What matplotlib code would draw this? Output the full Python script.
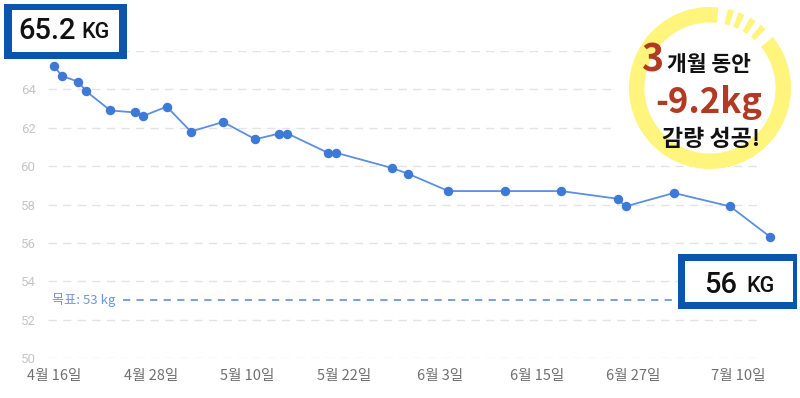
import matplotlib
matplotlib.use("Agg")
import matplotlib.pyplot as plt
from matplotlib.patches import Rectangle, Wedge
import pandas as pd

# -----------------------------
# Data
# -----------------------------
year = "2023"
dates = ["04-16", "04-17", "04-19", "04-20", "04-23", "04-26", "04-27", "04-30",
         "05-03", "05-07", "05-11", "05-14", "05-15", "05-20", "05-21", "05-28",
         "05-30", "06-04", "06-11", "06-18", "06-25", "06-26", "07-02", "07-09",
         "07-14"]
weights = [65.2, 64.7, 64.4, 63.9, 62.9, 62.8, 62.6, 63.1,
           61.8, 62.3, 61.4, 61.7, 61.7, 60.7, 60.7, 59.9,
           59.6, 58.7, 58.7, 58.7, 58.3, 57.9, 58.6, 57.9,
           56.3]
tick_dates = ["04-16", "04-28", "05-10", "05-22", "06-03", "06-15", "06-27", "07-10"]
tick_labels = ["4월 16일", "4월 28일", "5월 10일", "5월 22일", "6월 3일", "6월 15일", "6월 27일", "7월 10일"]
y_ticks = [50, 52, 54, 56, 58, 60, 62, 64, 66]
goal = 53
goal_label = "목표: 53 kg"
start_label = ("65.2", "KG")
end_label = ("56", "KG")

x = pd.to_datetime([f"{year}-{d}" for d in dates])
xt = pd.to_datetime([f"{year}-{d}" for d in tick_dates])

KR = ["Noto Sans CJK KR", "DejaVu Sans"]
LINE = "#5b8fe0"
DOT = "#3d7ad8"
BOX = "#0b55ae"
RED = "#b23a22"
YEL = "#fff47c"

fig = plt.figure(figsize=(8, 3.98), dpi=100)

# -----------------------------
# Main chart
# -----------------------------
ax = fig.add_axes([48 / 800, 40 / 398, 712 / 800, 307 / 398])
ax.plot(x, weights, color=LINE, lw=1.3, marker="o", ms=5.8,
        mfc=DOT, mec=DOT, clip_on=False, zorder=3)
ax.axhline(goal, xmin=75 / 712, color="#6d97dc", lw=1.3,
           linestyle=(0, (4, 3.5)), zorder=2)
ax.text(x[0] - pd.Timedelta(days=0.3), goal, goal_label,
        family=KR, fontsize=9.5, color="#6d97dc", va="center", ha="left")

ax.set_ylim(50, 66)
ax.set_xlim(x[0] - pd.Timedelta(days=0.75), x[0] + pd.Timedelta(days=87.7))
ax.set_yticks(y_ticks)
ax.set_yticklabels([str(v) for v in y_ticks], family=["Roboto"], fontsize=9.5, color="#c6c6c6")
ax.set_xticks(xt)
ax.set_xticklabels(tick_labels, family=KR, fontsize=10.5, color="#707070")
ax.tick_params(axis="x", length=0, pad=8)
ax.tick_params(axis="y", length=0, pad=9)
ax.yaxis.grid(True, linestyle=(0, (6, 4.5)), color="#e3e3e3", lw=1)
ax.xaxis.grid(False)
for s in ax.spines.values():
    s.set_visible(False)

# -----------------------------
# Overlay (pixel coords)
# -----------------------------
ov = fig.add_axes([0, 0, 1, 1], zorder=5)
ov.set_xlim(0, 800)
ov.set_ylim(0, 398)
ov.axis("off")

def Y(py):
    return 398 - py

# badge background + ring
ov.add_patch(Rectangle((615, Y(150)), 185, 150, color="white", lw=0))
cx, cy, r, w = 710, Y(88), 81, 15.5
ov.add_patch(Wedge((cx, cy), r, 84, 399, width=w, color=YEL, lw=0))
for a in [49, 58, 67, 75]:
    ov.add_patch(Wedge((cx, cy), r, a - 2.3, a + 2.3, width=w, color=YEL, lw=0))

ov.text(641, Y(72), "3", family=KR, fontsize=27, weight="heavy", color=RED,
        ha="left", va="baseline")
ov.text(667, Y(71), "개월 동안", family=KR, fontsize=15.5, weight="heavy",
        color="#111111", ha="left", va="baseline")
ov.text(709, Y(113), "-9.2kg", family=KR, fontsize=25, weight="heavy", color=RED,
        ha="center", va="baseline")
ov.text(711, Y(146), "감량 성공!", family=KR, fontsize=16.5, weight="heavy",
        color="#111111", ha="center", va="baseline")

# value boxes
def value_box(x0, y0, x1, y1, bl, bt, br, bb, num, unit, nx, ux, base):
    ov.add_patch(Rectangle((x0, Y(y1)), x1 - x0, y1 - y0, color=BOX, lw=0))
    ov.add_patch(Rectangle((x0 + bl, Y(y1 - bb)), x1 - x0 - bl - br,
                           y1 - y0 - bt - bb, color="white", lw=0))
    ov.text(nx, Y(base), num, family=["Roboto"], weight="medium", fontsize=21,
            color="#111111", ha="left", va="baseline")
    ov.text(ux, Y(base - 0.5), unit, family=["Roboto"], weight="medium", fontsize=15.5,
            color="#111111", ha="left", va="baseline")

value_box(4, 4, 127, 59, 8, 6, 8, 7, start_label[0], start_label[1], 18, 81, 39)
value_box(678, 254, 797, 309, 7, 7, 4, 7, end_label[0], end_label[1], 704, 746, 293)

fig.savefig("out.png", dpi=100)
